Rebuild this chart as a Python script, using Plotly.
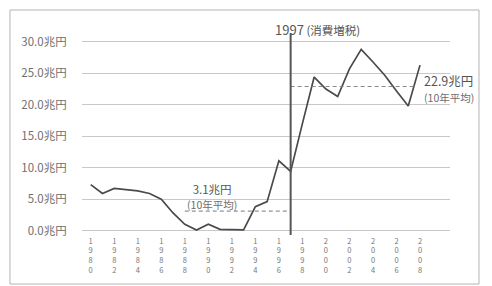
import plotly.graph_objects as go

years = list(range(1980, 2009))
values = [7.3, 5.9, 6.7, 6.5, 6.3, 5.9, 5.0, 2.8, 1.0, 0.1,
          1.0, 0.2, 0.1, 0.1, 3.8, 4.6, 11.1, 9.4, 17.0, 24.4,
          22.5, 21.3, 25.7, 28.8, 26.8, 24.7, 22.2, 19.8, 26.3]

y_ticks = [0, 5, 10, 15, 20, 25, 30]
y_tick_labels = ["0.0兆円", "5.0兆円", "10.0兆円", "15.0兆円", "20.0兆円", "25.0兆円", "30.0兆円"]
x_ticks = list(range(1980, 2009, 2))
x_tick_labels = ["<br>".join(str(y)) for y in x_ticks]

event_year = 1997
event_year_text = "1997"
event_note = "(消費増税)"
avg_before = 3.1
avg_before_span = [1988, 1997]
avg_after = 22.9
avg_after_span = [1997, 2007.7]
avg_note = "(10年平均)"

FONT = "Noto Sans CJK JP"
TXT = "#6e6e6e"
LINE = "#4a4a4a"

fig = go.Figure()
fig.add_trace(go.Scatter(x=years, y=values, mode="lines",
                         line=dict(color=LINE, width=1.7), cliponaxis=False,
                         hoverinfo="skip", showlegend=False))
fig.add_trace(go.Scatter(x=avg_before_span, y=[avg_before] * 2, mode="lines",
                         line=dict(color="#777", width=1, dash="4px,3px"),
                         showlegend=False, hoverinfo="skip"))
fig.add_trace(go.Scatter(x=avg_after_span, y=[avg_after] * 2, mode="lines",
                         line=dict(color="#888", width=1, dash="4px,3px"),
                         showlegend=False, hoverinfo="skip"))

fig.add_shape(type="line", xref="x", yref="paper", x0=event_year, x1=event_year,
              y0=0, y1=0.976, line=dict(color="#555", width=2))
# frame
fig.add_shape(type="rect", xref="paper", yref="paper", x0=-0.1957, x1=1.0788,
              y0=-0.237, y1=1.087, line=dict(color="#b4b4b4", width=1))

fig.add_annotation(x=event_year, y=0.995, xref="x", yref="paper",
                   text=f"<span style='font-size:13px'>{event_year_text}</span> {event_note}",
                   showarrow=False, xanchor="center", yanchor="middle", xshift=27,
                   font=dict(family=FONT, size=11.5, color="#555"))
fig.add_annotation(x=1990.35, y=5.4,
                   text=f"{avg_before}兆円<br><span style='font-size:10.5px;fill:{TXT}'>{avg_note}</span>",
                   showarrow=False, align="center", xanchor="center", yanchor="middle",
                   font=dict(family=FONT, size=11.5, color="#555"))
fig.add_annotation(x=2008.2, y=22.7,
                   text=f"{avg_after}兆円<br><span style='font-size:10.5px;fill:{TXT}'>{avg_note}</span>",
                   showarrow=False, align="left", xanchor="left", yanchor="middle",
                   font=dict(family=FONT, size=12.5, color="#555"))

fig.update_layout(
    width=484, height=278,
    margin=dict(l=74, r=42, t=20, b=51),
    paper_bgcolor="white", plot_bgcolor="white",
    font=dict(family=FONT, color=TXT),
    xaxis=dict(range=[1979.26, 2010.55], tickmode="array", tickvals=x_ticks,
               ticktext=x_tick_labels, showgrid=False, zeroline=False,
               showline=False, ticks="", tickfont=dict(size=7.5, color="#777"),
               tickangle=0, fixedrange=True),
    yaxis=dict(range=[-0.7, 32.2], tickmode="array", tickvals=y_ticks,
               ticktext=y_tick_labels, showgrid=True, gridcolor="#c8c8c8",
               gridwidth=1, zeroline=False, showline=False,
               ticks="outside", ticklen=12, tickcolor="rgba(0,0,0,0)",
               tickfont=dict(size=11.5, color=TXT), fixedrange=True),
)
fig.write_html("out.html")
